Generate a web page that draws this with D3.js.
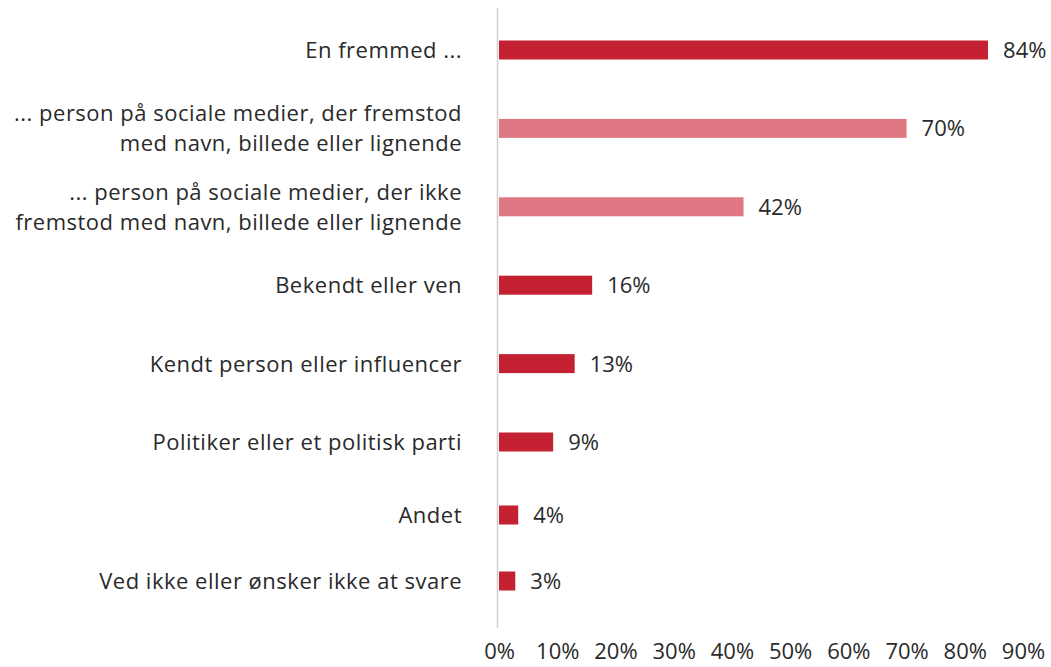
<!DOCTYPE html>
<html><head><meta charset="utf-8">
<script src="https://cdn.jsdelivr.net/npm/d3@7"></script>
<style>body{margin:0;background:#fff}</style>
</head><body>
<svg id="c" width="1051" height="667"></svg>
<script>
const categories = [
  ["En fremmed ..."],
  ["... person på sociale medier, der fremstod", "med navn, billede eller lignende"],
  ["... person på sociale medier, der ikke", "fremstod med navn, billede eller lignende"],
  ["Bekendt eller ven"],
  ["Kendt person eller influencer"],
  ["Politiker eller et politisk parti"],
  ["Andet"],
  ["Ved ikke eller ønsker ikke at svare"]
];
const values = [84, 70, 42, 16, 13, 9.3, 3.3, 2.8];
const valueLabels = ["84%", "70%", "42%", "16%", "13%", "9%", "4%", "3%"];
const highlight = [false, true, true, false, false, false, false, false];
const ticks = [0, 10, 20, 30, 40, 50, 60, 70, 80, 90];

const svg = d3.select("#c");
const font = "'Open Sans', sans-serif";
const fs = 22;
const x = d3.scaleLinear().domain([0, 90]).range([499, 1023]);
const y = d3.scaleLinear().domain([0, 5, 6, 7]).range([50, 442, 515, 581]);
const barH = 19;

svg.append("line").attr("x1", 497.5).attr("x2", 497.5).attr("y1", 8).attr("y2", 628)
  .attr("stroke", "#d0d0d0").attr("stroke-width", 1.5);

const g = svg.append("g").selectAll("g").data(values).join("g");
g.append("rect")
  .attr("x", x(0)).attr("y", (d, i) => y(i) - barH / 2)
  .attr("width", d => x(d) - x(0)).attr("height", barH)
  .attr("fill", (d, i) => highlight[i] ? "#DF7882" : "#C42233");
g.append("text")
  .attr("x", d => x(d) + 15).attr("y", (d, i) => y(i))
  .attr("dy", "0.36em").attr("font-family", font).attr("font-size", fs)
  .attr("fill", "#2a2a2a").text((d, i) => valueLabels[i]);

const lab = svg.append("g").selectAll("text").data(categories).join("text")
  .attr("text-anchor", "end").attr("font-family", font).attr("font-size", fs)
  .attr("letter-spacing", 0.5)
  .attr("fill", "#2a2a2a");
lab.each(function(lines, i) {
  const t = d3.select(this);
  const n = lines.length, lh = 30;
  lines.forEach((l, j) => {
    t.append("tspan").attr("x", 462)
      .attr("y", y(i) + (j - (n - 1) / 2) * lh)
      .attr("dy", "0.36em").text(l);
  });
});

const axis = d3.axisBottom(x).tickValues(ticks).tickFormat(d => d + "%").tickSize(0).tickPadding(0);
const ag = svg.append("g").attr("transform", "translate(0,649)").call(axis);
ag.select(".domain").remove();
ag.selectAll("text").attr("font-family", font).attr("font-size", fs).attr("fill", "#2a2a2a").attr("dy", "0.45em");
</script>
</body></html>
